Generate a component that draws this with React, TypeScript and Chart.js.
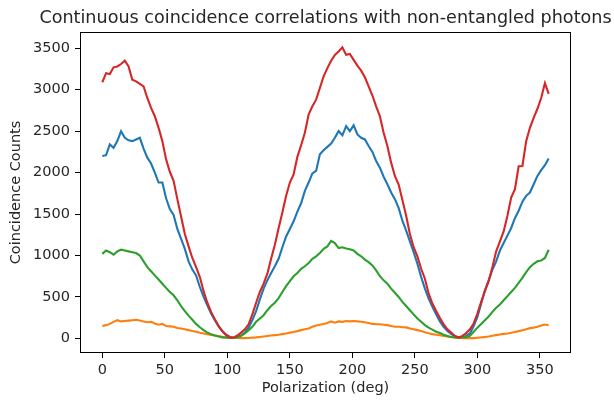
import React, { useEffect, useRef } from "react";
import { Chart, registerables } from "chart.js";

Chart.register(...registerables);

const titleText = "Continuous coincidence correlations with non-entangled photons";
const xLabel = "Polarization (deg)";
const yLabel = "Coincidence Counts";

const xTicks = [0, 50, 100, 150, 200, 250, 300, 350];
const yTicks = [0, 500, 1000, 1500, 2000, 2500, 3000, 3500];

const angles = [
  0, 3, 6, 9, 12, 15, 18, 21, 24, 27,
  30, 33, 36, 39, 42, 45, 48, 51, 54, 57,
  60, 63, 66, 69, 72, 75, 78, 81, 84, 87,
  90, 93, 96, 99, 102, 105, 108, 111, 114, 117,
  120, 123, 126, 129, 132, 135, 138, 141, 144, 147,
  150, 153, 156, 159, 162, 165, 168, 171, 174, 177,
  180, 183, 186, 189, 192, 195, 198, 201, 204, 207,
  210, 213, 216, 219, 222, 225, 228, 231, 234, 237,
  240, 243, 246, 249, 252, 255, 258, 261, 264, 267,
  270, 273, 276, 279, 282, 285, 288, 291, 294, 297,
  300, 303, 306, 309, 312, 315, 318, 321, 324, 327,
  330, 333, 336, 339, 342, 345, 348, 351, 354, 357,
];

const blueCounts = [
  2200, 2210, 2340, 2300, 2380, 2500, 2420, 2390, 2380, 2400,
  2420, 2290, 2180, 2110, 2000, 1880, 1880, 1690, 1560, 1490,
  1320, 1200, 1080, 930, 830, 760, 620, 500, 400, 300,
  220, 145, 90, 45, 20, 8, 15, 35, 70, 130,
  220, 330, 470, 600, 700, 790, 870, 960, 1100, 1230,
  1320, 1413, 1530, 1630, 1780, 1880, 1990, 2020, 2220, 2270,
  2310, 2350, 2420, 2500, 2450, 2560, 2500, 2570, 2460, 2420,
  2400, 2320, 2250, 2140, 2060, 1950, 1860, 1760, 1680, 1574,
  1420, 1300, 1171, 1040, 900, 740, 600, 480, 380, 290,
  205, 140, 90, 55, 25, 10, 15, 30, 60, 150,
  260, 420, 580, 700, 830, 930, 1060, 1150, 1240, 1332,
  1450, 1540, 1650, 1720, 1760, 1860, 1960, 2030, 2090, 2170,
];

const orangeCounts = [
  150, 160, 175, 200, 220, 205, 210, 215, 220, 225,
  215, 205, 195, 200, 180, 165, 175, 150, 145, 140,
  125, 120, 110, 100, 90, 80, 68, 60, 50, 42,
  36, 28, 20, 15, 12, 8, 6, 4, 4, 5,
  10, 12, 18, 24, 30, 35, 40, 45, 52, 60,
  70, 78, 88, 100, 110, 120, 140, 157, 165, 175,
  185, 205, 190, 205, 200, 210, 205, 210, 205, 200,
  195, 185, 175, 170, 170, 165, 160, 150, 140, 140,
  135, 133, 120, 110, 100, 90, 75, 62, 52, 45,
  38, 30, 24, 18, 12, 6, 4, 4, 4, 4,
  8, 12, 18, 24, 32, 40, 48, 55, 60, 68,
  78, 88, 98, 110, 124, 130, 140, 155, 168, 158,
];

const greenCounts = [
  1020, 1060, 1040, 1010, 1050, 1070, 1060, 1050, 1040, 1030,
  1000, 930, 860, 810, 760, 710, 660, 610, 560, 520,
  460, 390, 330, 275, 225, 175, 135, 100, 70, 50,
  35, 22, 12, 8, 6, 8, 12, 30, 60, 100,
  140, 200, 240, 280, 340, 390, 430, 487, 560, 630,
  690, 749, 790, 840, 870, 910, 960, 990, 1030, 1080,
  1110, 1175, 1150, 1090, 1100, 1085, 1075, 1060, 1020, 990,
  950, 920, 880, 820, 750, 700, 660, 600, 550, 500,
  440, 390, 340, 290, 240, 200, 160, 130, 105, 80,
  64, 45, 30, 18, 12, 10, 12, 15, 30, 80,
  130, 175, 220, 265, 320, 370, 410, 460, 510, 560,
  610, 670, 730, 800, 860, 900, 930, 940, 970, 1070,
];

const redCounts = [
  3090, 3200, 3190, 3270, 3280, 3310, 3350, 3280, 3120, 3100,
  3070, 3040, 2900, 2780, 2680, 2540, 2380, 2160, 2010, 1900,
  1680, 1470, 1260, 1110, 970, 860, 740, 570, 430, 320,
  230, 150, 85, 40, 12, 8, 35, 70, 110, 170,
  290, 430, 560, 660, 780, 960, 1130, 1330, 1520, 1720,
  1880, 1977, 2190, 2330, 2480, 2700, 2800, 2880, 3020, 3160,
  3260, 3350, 3420, 3460, 3510, 3420, 3430, 3360, 3290, 3230,
  3150, 3040, 2930, 2800, 2680, 2480, 2320, 2120, 1960, 1856,
  1670, 1480, 1260, 1100, 990, 840, 720, 540, 420, 330,
  245, 170, 110, 70, 30, 10, 30, 64, 110, 180,
  300, 440, 570, 690, 860, 1050, 1170, 1290, 1480, 1700,
  1800, 2077, 2080, 2380, 2540, 2660, 2770, 2900, 3080, 2950,
];

const FONT = "'DejaVu Sans', sans-serif";
const TEXT = "#262626";

function pts(vals: number[]) {
  return angles.map((a, i) => ({ x: a, y: vals[i] }));
}

export default function App() {
  const ref = useRef<HTMLCanvasElement>(null);

  useEffect(() => {
    document.body.style.margin = "0";
    const canvas = ref.current!;

    const framePlugin = {
      id: "frameAndTitle",
      afterDraw(chart: any) {
        const { ctx, chartArea: a } = chart;
        ctx.save();
        ctx.strokeStyle = "#000";
        ctx.lineWidth = 1;
        ctx.strokeRect(a.left + 0.5, a.top + 0.5, a.right - a.left - 1, a.bottom - a.top - 1);
        ctx.fillStyle = TEXT;
        ctx.font = `17.6px ${FONT}`;
        ctx.textAlign = "center";
        ctx.textBaseline = "middle";
        ctx.fillText(titleText, (a.left + a.right) / 2, 18);
        ctx.restore();
      },
    };

    const mk = (label: string, vals: number[], color: string) => ({
      label,
      data: pts(vals),
      borderColor: color,
      backgroundColor: color,
      borderWidth: 2.1,
      pointRadius: 0,
      tension: 0,
      fill: false,
    });

    const chart = new Chart(canvas, {
      type: "line",
      data: {
        datasets: [
          mk("red", redCounts, "#d62728"),
          mk("green", greenCounts, "#2ca02c"),
          mk("orange", orangeCounts, "#ff7f0e"),
          mk("blue", blueCounts, "#1f77b4"),
        ],
      },
      options: {
        animation: false,
        responsive: false,
        devicePixelRatio: 1,
        layout: { padding: { top: 32, right: 43, left: 0, bottom: 0 } },
        plugins: {
          legend: { display: false },
          title: { display: false },
          tooltip: { enabled: false },
        },
        scales: {
          x: {
            type: "linear",
            min: -17.85,
            max: 374.85,
            afterBuildTicks: (s: any) => {
              s.ticks = xTicks.map((v) => ({ value: v }));
            },
            afterFit: (s: any) => {
              s.height = 47;
            },
            grid: {
              drawOnChartArea: false,
              drawTicks: true,
              tickLength: 5,
              tickColor: "#000",
              tickWidth: 1,
            },
            border: { display: false },
            ticks: {
              padding: 4,
              color: TEXT,
              font: { family: FONT, size: 14.5 },
              maxRotation: 0,
              autoSkip: false,
              callback: (v: any) => String(v),
            },
            title: {
              display: true,
              text: xLabel,
              color: TEXT,
              font: { family: FONT, size: 14.5 },
              padding: { top: 0, bottom: 3 },
            },
          },
          y: {
            type: "linear",
            min: -176,
            max: 3696,
            afterBuildTicks: (s: any) => {
              s.ticks = yTicks.map((v) => ({ value: v }));
            },
            afterFit: (s: any) => {
              s.width = 80;
            },
            grid: {
              drawOnChartArea: false,
              drawTicks: true,
              tickLength: 5,
              tickColor: "#000",
              tickWidth: 1,
            },
            border: { display: false },
            ticks: {
              padding: 5,
              color: TEXT,
              font: { family: FONT, size: 14.5 },
              autoSkip: false,
              callback: (v: any) => String(v),
            },
            title: {
              display: true,
              text: yLabel,
              color: TEXT,
              font: { family: FONT, size: 14.5 },
              padding: { top: 8, bottom: 0 },
            },
          },
        },
      },
      plugins: [framePlugin],
    } as any);

    return () => chart.destroy();
  }, []);

  return (
    <div style={{ width: 614, height: 400 }}>
      <canvas ref={ref} width={614} height={400} style={{ display: "block" }} />
    </div>
  );
}
